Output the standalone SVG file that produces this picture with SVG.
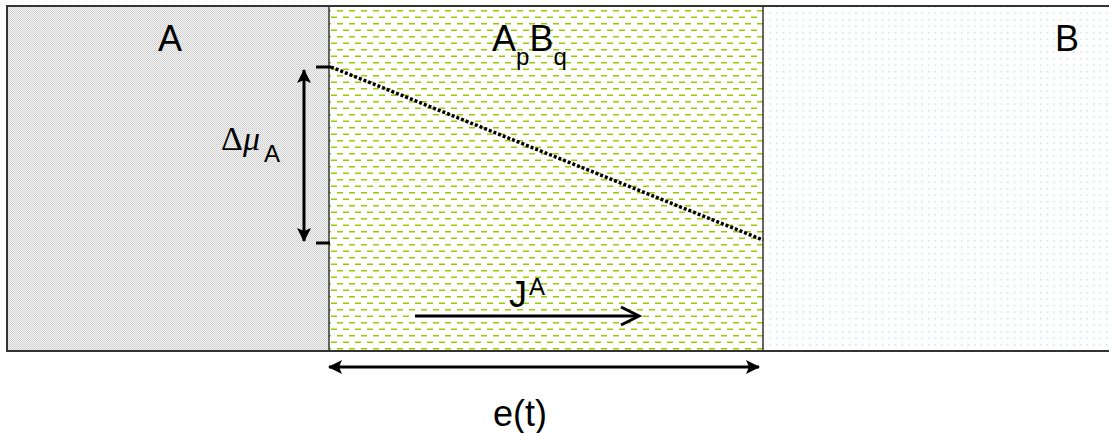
<svg xmlns="http://www.w3.org/2000/svg" width="1109" height="433" viewBox="0 0 1109 433">
<style>
.big{font-family:"Liberation Sans",Arial,sans-serif;font-size:36px;fill:#000}
.sub{font-family:"Liberation Sans",Arial,sans-serif;font-size:24px;fill:#000}
.sym{font-family:"Liberation Serif","Times New Roman",serif;font-size:34px;fill:#000}
.ln{stroke:#000;stroke-width:3;fill:none}
.frame{fill:none;stroke:#333;stroke-width:2}
.div{stroke:#333;stroke-width:1.5}
</style>
<defs>
<pattern id="gray" width="2" height="2" patternUnits="userSpaceOnUse">
<rect width="2" height="2" fill="#f4f4f4"/>
<rect width="1" height="1" fill="#cccccc"/>
<rect x="1" y="1" width="1" height="1" fill="#d6d6d6"/>
</pattern>
<pattern id="green" width="12" height="13" patternUnits="userSpaceOnUse" x="0" y="10">
<rect width="12" height="13" fill="#fff"/>
<rect x="1" y="0" width="6" height="1" fill="#99cc00"/>
<rect x="1" y="1" width="6" height="1" fill="#cce680"/>
<rect x="7" y="6" width="6" height="1" fill="#cce680"/>
<rect x="7" y="7" width="6" height="1" fill="#99cc00"/>
<rect x="-5" y="6" width="6" height="1" fill="#cce680"/>
<rect x="-5" y="7" width="6" height="1" fill="#99cc00"/>
</pattern>
<pattern id="cyan" width="6.6" height="6.5" patternUnits="userSpaceOnUse" x="2" y="4">
<rect width="6.6" height="6.5" fill="#fff"/>
<rect x="2" y="2" width="1.3" height="1.3" fill="#a8dde4"/>
</pattern>
<marker id="head" viewBox="0 0 14 14" refX="13" refY="7" markerWidth="14" markerHeight="14" markerUnits="userSpaceOnUse" orient="auto-start-reverse">
<path d="M0,0 L14,7 L0,14 L3,7 Z" fill="#000"/>
</marker>
</defs>

<g id="region-A">
<rect x="7" y="6" width="322" height="345" fill="url(#gray)"/>
<text class="big" x="158" y="51">A</text>
</g>

<g id="region-ApBq">
<rect x="329" y="6" width="434" height="345" fill="url(#green)"/>
<text x="492" y="51"><tspan class="big">A</tspan><tspan class="sub" dy="14">p</tspan><tspan class="big" dy="-14">B</tspan><tspan class="sub" dy="14">q</tspan></text>
</g>

<g id="region-B">
<rect x="763" y="6" width="346" height="345" fill="url(#cyan)"/>
<text class="big" x="1055" y="51">B</text>
</g>

<g id="frame">
<rect class="frame" x="7" y="6" width="1110" height="345"/>
<line class="div" x1="329" y1="6" x2="329" y2="351"/>
<line class="div" x1="763" y1="6" x2="763" y2="351"/>
</g>

<g id="labels">
<text x="221" y="150"><tspan class="sym">Δ</tspan><tspan class="sym" font-style="italic">μ</tspan><tspan class="sub" font-size="18" dx="4" dy="12">A</tspan></text>
<text x="509" y="307"><tspan class="big" font-size="32">J</tspan><tspan class="sub" font-size="22" dx="2" dy="-12">A</tspan></text>
<text class="big" x="493" y="426">e(t)</text>
</g>

<g id="connectors">
<line class="ln" x1="304" y1="70" x2="304" y2="241" marker-start="url(#head)" marker-end="url(#head)"/>
<line class="ln" x1="316" y1="67" x2="331" y2="67"/>
<line class="ln" x1="316" y1="243" x2="330" y2="243"/>
<line x1="331" y1="67" x2="763" y2="240" stroke="#000" stroke-width="3.5" stroke-dasharray="3 2"/>
<line class="ln" x1="415" y1="316" x2="636" y2="316"/>
<path d="M621,307 L639,316 L621,325" fill="none" stroke="#000" stroke-width="3"/>
<line class="ln" x1="329" y1="367" x2="759" y2="367" marker-start="url(#head)" marker-end="url(#head)"/>
</g>
</svg>
